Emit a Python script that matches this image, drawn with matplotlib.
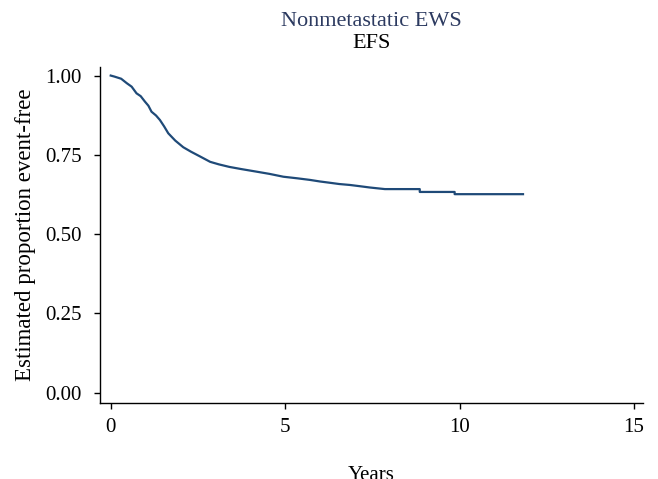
import matplotlib
matplotlib.use("Agg")
import matplotlib.pyplot as plt

# Kaplan-Meier EFS estimate (years, proportion event-free)
years = [0.0, 0.1, 0.3, 0.46, 0.6, 0.74, 0.86, 0.98, 1.08, 1.17, 1.3, 1.41,
         1.53, 1.65, 1.85, 2.08, 2.3, 2.56, 2.85, 3.1, 3.4, 3.75, 4.18, 4.55,
         4.95, 5.35, 5.71, 6.0, 6.28, 6.55, 6.86, 7.15, 7.43, 7.86, 8.86,
         8.86, 9.86, 9.86, 11.82]
efs = [1.0, 0.997, 0.99, 0.976, 0.965, 0.944, 0.935, 0.918, 0.905, 0.886,
       0.874, 0.860, 0.840, 0.818, 0.795, 0.774, 0.760, 0.745, 0.728, 0.720,
       0.712, 0.705, 0.697, 0.690, 0.681, 0.676, 0.671, 0.666, 0.662, 0.658,
       0.655, 0.651, 0.647, 0.642, 0.642, 0.633, 0.633, 0.626, 0.626]

x_ticks = [0, 5, 10, 15]
y_ticks = [0.0, 0.25, 0.50, 0.75, 1.0]
y_ticklabels = ["0.00", "0.25", "0.50", "0.75", "1.00"]

plt.rcParams["font.family"] = ["Liberation Serif", "DejaVu Serif"]

fig = plt.figure(figsize=(6.58, 4.79), dpi=100)
# plot region: x 100..643 px, y 67..403 px
ax = fig.add_axes([100 / 658, 1 - 403 / 479, 543 / 658, 336 / 479])

ax.plot(years, efs, color="#1f4a78", linewidth=1.6)

ax.set_xlim(-0.307, 15.26)
ax.set_ylim(-0.0325, 1.027)
ax.set_xticks(x_ticks)
ax.set_yticks(y_ticks)
ax.set_yticklabels(y_ticklabels)

for side in ["top", "right"]:
    ax.spines[side].set_visible(False)
for side in ["left", "bottom"]:
    ax.spines[side].set_linewidth(1.0)

ax.tick_params(axis="both", direction="out", length=4, width=1.0,
               labelsize=15, colors="black")
ax.tick_params(axis="y", pad=9)
ax.tick_params(axis="x", pad=7)

ax.set_ylabel("Estimated proportion event-free", fontsize=16.5, labelpad=7)
# the reference crops the bottom of the x-axis title
ax.set_xlabel("Years", fontsize=15, labelpad=21)

title_x = (100 + 643) / 2 / 658
fig.text(title_x, 1 - 21 / 479, "Nonmetastatic EWS", ha="center",
         va="center", fontsize=16, color="#2c3a60")
fig.text(title_x, 1 - 43 / 479, "EFS", ha="center", va="center",
         fontsize=16, color="black")

fig.savefig("out.png", dpi=100)
